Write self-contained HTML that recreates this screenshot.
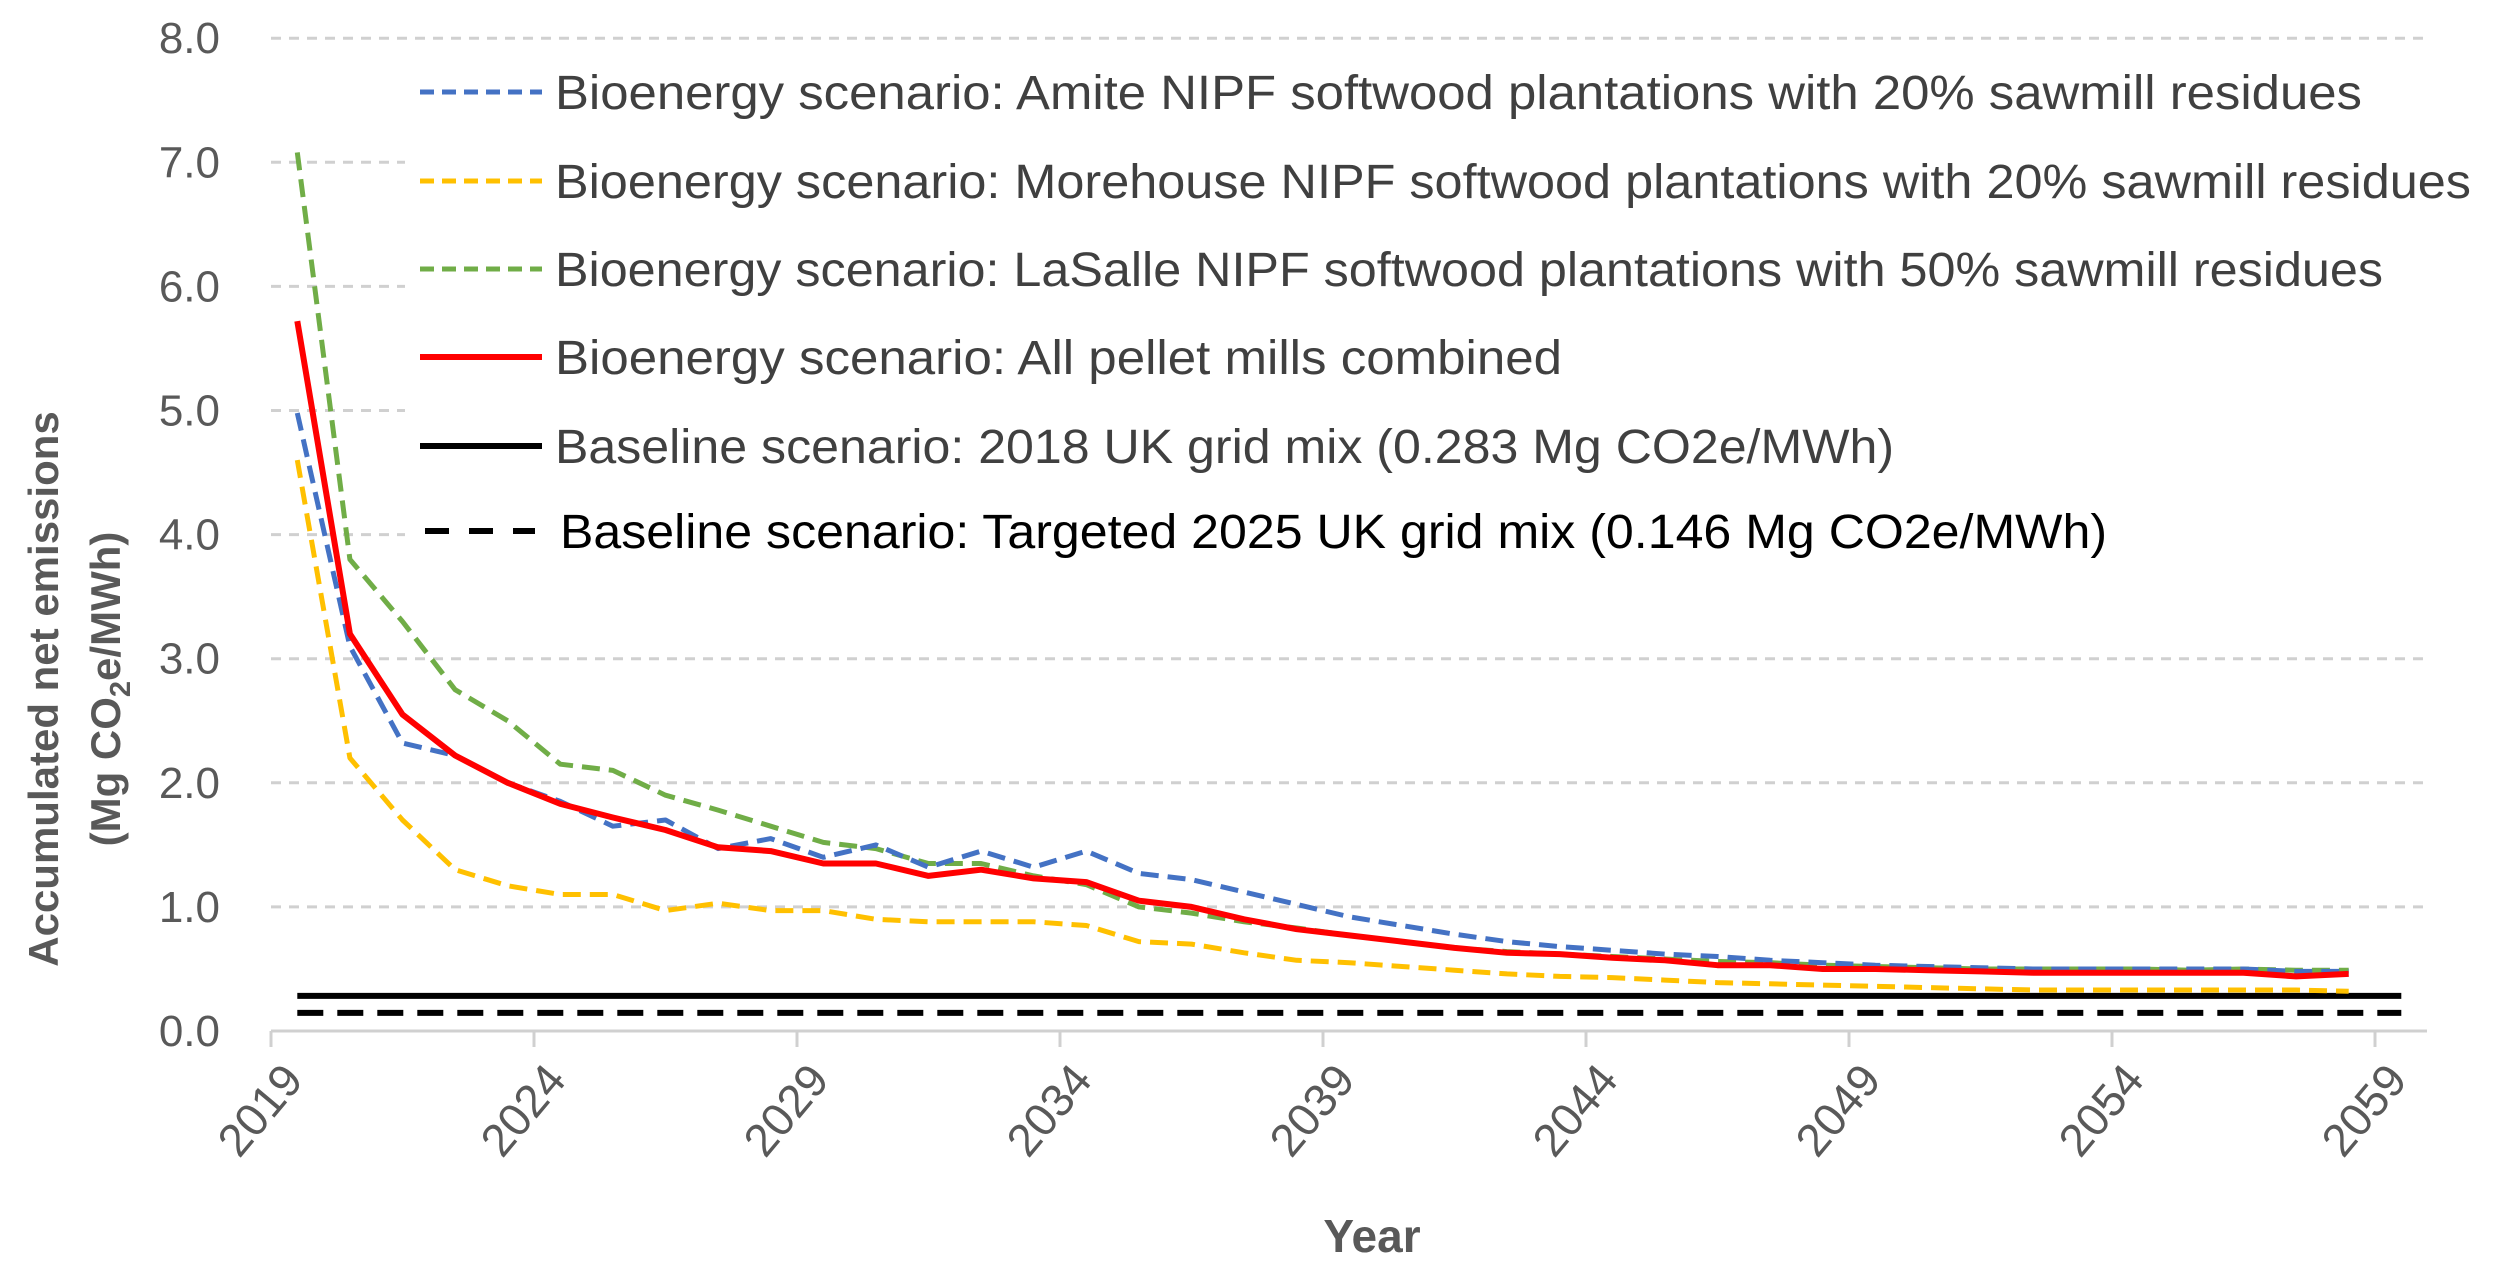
<!DOCTYPE html>
<html><head><meta charset="utf-8"><style>
html,body{margin:0;padding:0;background:#fff}
svg{display:block}
text{font-family:"Liberation Sans",sans-serif}
</style></head><body>
<svg id="chart" width="2500" height="1285" viewBox="0 0 2500 1285" xmlns="http://www.w3.org/2000/svg">
<rect width="2500" height="1285" fill="#fff"/>
<g id="grid"></g>
<g id="axes"></g>
<g id="legendbg"><rect x="405" y="58" width="2095" height="525" fill="#fff"/></g>
<g id="series"></g>
<g id="legend"></g>
<text transform="translate(58,689) rotate(-90)" text-anchor="middle" font-size="42" font-weight="bold" fill="#595959">Accumulated net emissions</text>
<text transform="translate(120,689) rotate(-90)" text-anchor="middle" font-size="42" font-weight="bold" fill="#595959">(Mg CO<tspan font-size="29" dy="10">2</tspan><tspan dy="-10">e/MWh)</tspan></text>
<text x="1372" y="1252" text-anchor="middle" font-size="46" font-weight="bold" fill="#595959">Year</text>
</svg>
<script>
const yTicks = [0,1,2,3,4,5,6,7,8];
const xTickYears = [2019,2024,2029,2034,2039,2044,2049,2054,2059];
const amite = [4.98,3.1,2.32,2.22,2.0,1.85,1.65,1.7,1.47,1.55,1.4,1.5,1.32,1.45,1.32,1.45,1.27,1.22,1.12,1.02,0.92,0.85,0.78,0.72,0.68,0.65,0.62,0.6,0.57,0.55,0.53,0.52,0.51,0.5,0.5,0.5,0.5,0.5,0.48,0.48];
const morehouse = [4.6,2.2,1.7,1.3,1.17,1.1,1.1,0.97,1.03,0.97,0.97,0.9,0.88,0.88,0.88,0.85,0.72,0.7,0.63,0.57,0.55,0.52,0.49,0.46,0.44,0.43,0.41,0.39,0.38,0.37,0.36,0.35,0.34,0.33,0.33,0.33,0.33,0.33,0.33,0.32];
const lasalle = [7.08,3.8,3.3,2.75,2.5,2.15,2.1,1.9,1.78,1.65,1.52,1.47,1.35,1.35,1.25,1.18,1.0,0.95,0.88,0.83,0.77,0.72,0.67,0.64,0.62,0.6,0.58,0.56,0.55,0.53,0.52,0.51,0.5,0.5,0.5,0.5,0.49,0.5,0.49,0.49];
const combined = [5.72,3.2,2.55,2.22,2.0,1.83,1.72,1.62,1.48,1.45,1.35,1.35,1.25,1.3,1.23,1.2,1.05,1.0,0.9,0.82,0.77,0.72,0.67,0.63,0.62,0.59,0.57,0.53,0.53,0.5,0.5,0.49,0.48,0.47,0.47,0.47,0.47,0.47,0.44,0.46];
const baseline2018 = 0.283;
const baseline2025 = 0.146;
const baselineYears = 41;

const NS="http://www.w3.org/2000/svg";
const X0=271, X1=2427, PX_YR=52.6, Y0=1031, PX_U=124.1;
const xCat = i => X0 + PX_YR*(i+0.5);
const xYear = yr => X0 + PX_YR*(yr-2019);
const yV = v => Y0 - v*PX_U;
function mk(tag, attrs, parent){const e=document.createElementNS(NS,tag);for(const k in attrs)e.setAttribute(k,attrs[k]);parent.appendChild(e);return e;}
const grid=document.getElementById('grid'), axes=document.getElementById('axes'), series=document.getElementById('series'), legend=document.getElementById('legend');

yTicks.forEach(v=>{
  if(v>0){
    const g=mk('line',{x1:X0,x2:X1,y1:yV(v),y2:yV(v),stroke:'#d0d0d0','stroke-width':3,'stroke-dasharray':'10 8'},grid);
    
    
  }
  const t=mk('text',{x:220,y:yV(v)+15,'text-anchor':'end','font-size':44,fill:'#595959'},axes);
  t.textContent=v.toFixed(1);
  
  
});
const ax=mk('line',{x1:X0,x2:X1,y1:Y0,y2:Y0,stroke:'#d0d0d0','stroke-width':3},axes);


xTickYears.forEach(yr=>{
  const x=xYear(yr);
  const tk=mk('line',{x1:x,x2:x,y1:Y0,y2:Y0+16,stroke:'#d0d0d0','stroke-width':3},axes);
  
  
  const t=mk('text',{transform:`translate(${x+34},${Y0+50}) rotate(-50)`,'text-anchor':'end','font-size':46,fill:'#595959'},axes);
  t.textContent=yr;
  
  
});

function line(vals, color, w, dash, name){
  const d=vals.map((v,i)=>(i?'L':'M')+xCat(i).toFixed(1)+' '+yV(v).toFixed(1)).join(' ');
  const p=mk('path',{d:d,fill:'none',stroke:color,'stroke-width':w,'stroke-linejoin':'round'},series);
  if(dash)p.setAttribute('stroke-dasharray',dash);
  
  
}
line(Array(baselineYears).fill(baseline2018),'#000',6,null,'baseline-2018-line');
line(Array(baselineYears).fill(baseline2025),'#000',6,'26 14','baseline-2025-line');
line(morehouse,'#ffc000',5,'18 9','morehouse-line');
line(lasalle,'#70ad47',5,'18 9','lasalle-line');
line(amite,'#4472c4',5,'18 9','amite-line');
line(combined,'#ff0000',6,null,'combined-line');

const legendItems=[
 ['Bioenergy scenario: Amite NIPF softwood plantations with 20% sawmill residues','#4472c4','14 8',5,92,2362,'#404040'],
 ['Bioenergy scenario: Morehouse NIPF softwood plantations with 20% sawmill residues','#ffc000','14 8',5,181,2471,'#404040'],
 ['Bioenergy scenario: LaSalle NIPF softwood plantations with 50% sawmill residues','#70ad47','14 8',5,269,2383,'#404040'],
 ['Bioenergy scenario: All pellet mills combined','#ff0000',null,6,357,1562,'#404040'],
 ['Baseline scenario: 2018 UK grid mix (0.283 Mg CO2e/MWh)','#000',null,6,446,1894,'#404040'],
 ['Baseline scenario: Targeted 2025 UK grid mix (0.146 Mg CO2e/MWh)','#000','24 20',6,531,2107,'#000']
];
legendItems.forEach((it,k)=>{
  const g=mk('g',{},legend);
  
  
  const x1=k===5?425:420, x2=k===5?535:542;
  const l=mk('line',{x1:x1,x2:x2,y1:it[4],y2:it[4],stroke:it[1],'stroke-width':it[3]},g);
  if(it[2])l.setAttribute('stroke-dasharray',it[2]);
  const tx=k===5?560:555;
  const t=mk('text',{x:tx,y:it[4]+17,'font-size':48,fill:it[6],textLength:it[5]-tx,lengthAdjust:'spacingAndGlyphs'},g);
  t.textContent=it[0];
});
</script>
</body></html>
